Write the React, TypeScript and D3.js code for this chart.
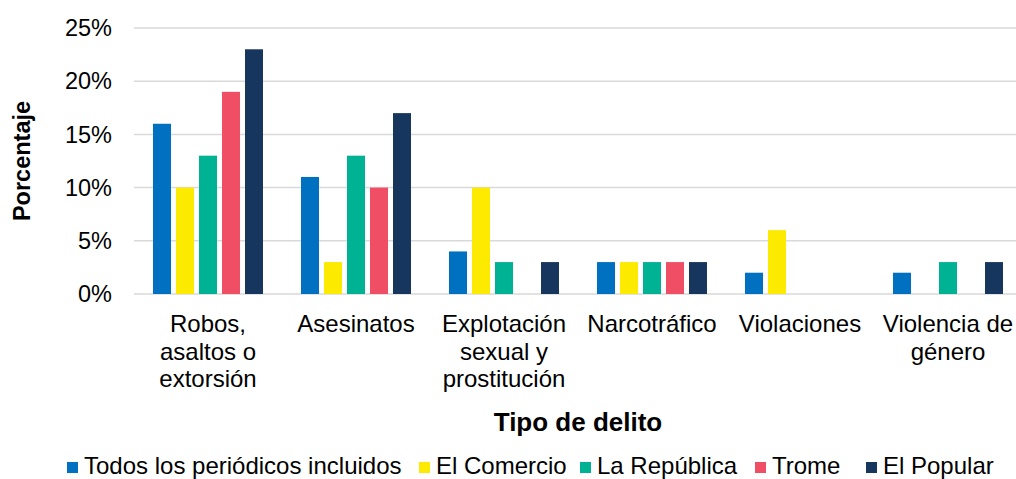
import React from "react";
import * as d3 from "d3";

const categories = [
  "Robos, asaltos o extorsión",
  "Asesinatos",
  "Explotación sexual y prostitución",
  "Narcotráfico",
  "Violaciones",
  "Violencia de género",
];
const categoryLines = [
  ["Robos,", "asaltos o", "extorsión"],
  ["Asesinatos"],
  ["Explotación", "sexual y", "prostitución"],
  ["Narcotráfico"],
  ["Violaciones"],
  ["Violencia de", "género"],
];
const seriesNames = [
  "Todos los periódicos incluidos",
  "El Comercio",
  "La República",
  "Trome",
  "El Popular",
];
const seriesColors = ["#0070C0", "#FCEA00", "#00B294", "#F04E64", "#17365D"];
const todos = [16, 11, 4, 3, 2, 2];
const elComercio = [10, 3, 10, 3, 6, 0];
const laRepublica = [13, 13, 3, 3, 0, 3];
const trome = [19, 10, 0, 3, 0, 0];
const elPopular = [23, 17, 3, 3, 0, 3];
const yTicks = [0, 5, 10, 15, 20, 25];

const seriesValues = [todos, elComercio, laRepublica, trome, elPopular];

const width = 1016;
const height = 479;
const font = "'Liberation Sans', Arial, sans-serif";

export default function App() {
  const x0 = d3.scaleBand().domain(categories).range([134, 1022]);
  const x1 = d3
    .scaleBand()
    .domain(seriesNames)
    .range([0, 110])
    .paddingInner(5 / 23);
  const y = d3.scaleLinear().domain([0, 25]).range([294, 28]);

  // legend layout
  const legendX = [67, 419, 580, 755, 866];

  return (
    <svg
      width={width}
      height={height}
      style={{ position: "absolute", left: 0, top: 0, background: "#fff" }}
      fontFamily={font}
    >
      {yTicks.map((t) => (
        <g key={t}>
          <line
            x1={134}
            x2={width}
            y1={y(t)}
            y2={y(t)}
            stroke="#d9d9d9"
            strokeWidth={1.5}
          />
          <text
            x={112}
            y={y(t)}
            dy="0.35em"
            textAnchor="end"
            fontSize={23.5}
            fill="#000"
          >
            {t}%
          </text>
        </g>
      ))}

      {categories.map((c, ci) => {
        const gx = (x0(c) as number) + x0.bandwidth() / 2 - 55;
        return (
          <g key={c} transform={`translate(${gx},0)`}>
            {seriesNames.map((s, si) => {
              const v = seriesValues[si][ci];
              if (!v) return null;
              return (
                <rect
                  key={s}
                  x={x1(s)}
                  y={y(v)}
                  width={x1.bandwidth()}
                  height={y(0) - y(v)}
                  fill={seriesColors[si]}
                />
              );
            })}
          </g>
        );
      })}

      {categories.map((c, ci) => (
        <text
          key={c}
          x={(x0(c) as number) + x0.bandwidth() / 2}
          y={332}
          textAnchor="middle"
          fontSize={24}
          fill="#000"
        >
          {categoryLines[ci].map((l, li) => (
            <tspan
              key={li}
              x={(x0(c) as number) + x0.bandwidth() / 2}
              dy={li === 0 ? 0 : 27.5}
            >
              {l}
            </tspan>
          ))}
        </text>
      ))}

      <text
        transform="translate(30,161) rotate(-90)"
        textAnchor="middle"
        fontSize={23.5}
        fontWeight="bold"
        fill="#000"
      >
        Porcentaje
      </text>

      <text
        x={578}
        y={431}
        textAnchor="middle"
        fontSize={26}
        fontWeight="bold"
        fill="#000"
      >
        Tipo de delito
      </text>

      {seriesNames.map((s, si) => (
        <g key={s}>
          <rect
            x={legendX[si]}
            y={462}
            width={11}
            height={11}
            fill={seriesColors[si]}
          />
          <text
            x={legendX[si] + 17}
            y={473.5}
            fontSize={24}
            fill="#000"
          >
            {s}
          </text>
        </g>
      ))}
    </svg>
  );
}
